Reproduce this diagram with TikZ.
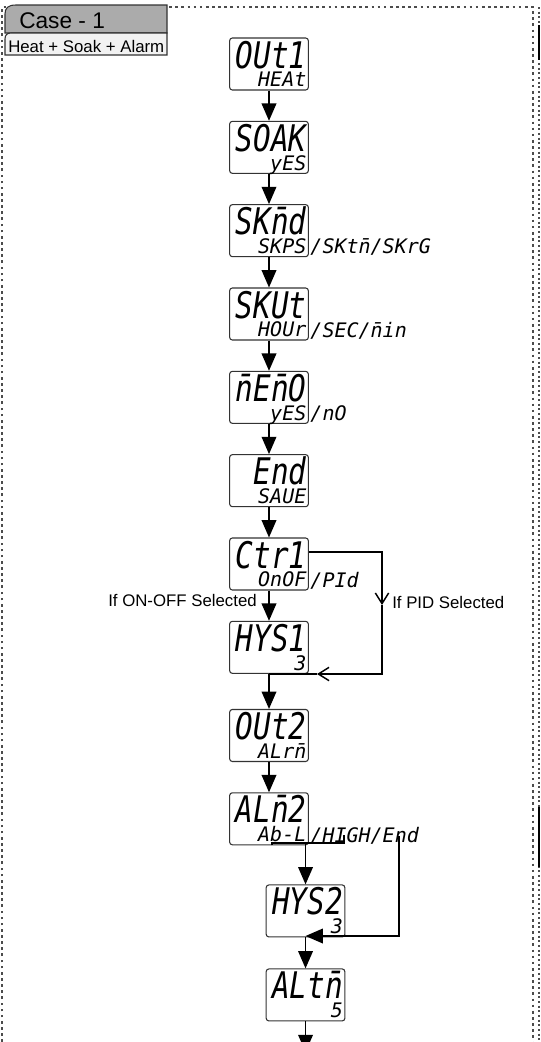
\documentclass[tikz,border=0pt]{standalone}
\usepackage{fontspec}
\setmainfont{Liberation Sans}
\newfontfamily\segfont{DejaVu Sans Mono Oblique}
\usepackage{graphicx}
\usetikzlibrary{positioning,arrows.meta}

\newcommand{\bigseg}{\segfont\fontsize{22pt}{22pt}\selectfont}
\newcommand{\smallseg}{\segfont\fontsize{15pt}{15pt}\selectfont}
\newcommand{\mb}[1]{\accent"00AF #1}
\newcommand{\seg}[2]{\vbox to 34pt{\offinterlineskip
  \hbox to 56pt{\vrule height 20pt width 0pt\hfil\smash{\bigseg\scalebox{1}[1.25]{#1}}}\vfil
  \hbox to 56pt{\hfil\smash{\smallseg #2}}}}

\begin{document}
\begin{tikzpicture}[x=0.75pt, y=-0.75pt, node distance=22.7pt,
  every node/.style={font=\fontsize{12.6pt}{14pt}\selectfont},
  lcd/.style={draw=black!80, line width=0.8pt, rounded corners=2pt, minimum width=59pt, minimum height=39pt, inner sep=0pt},
  opt/.style={anchor=base west, inner sep=1pt, font=\smallseg},
  arr/.style={-{Triangle[length=13pt,width=11pt]}, line width=1.1pt},
  barb/.style={-{Straight Barb[length=8pt,width=10pt]}, line width=1.1pt},
  link/.style={line width=1.1pt},
  frame/.style={draw=black!70, line width=0.9pt, dash pattern=on 2pt off 2.6pt}]
  \useasboundingbox (0,0) rectangle (540,1042);
  % panel frame
  \draw[frame] (2,1042) -- (2,7) -- (533,7) -- (533,1042);
  \draw[frame, dash pattern=on 1.5pt off 2pt] (539,7) -- (539,1042);
  \draw[line width=1.5pt] (539,25) -- (539,60) (539,807) -- (539,867);
  % tab
  \draw[draw=black!80, fill=black!33, line width=0.8pt] (5,33) -- (5,14) .. controls (5,8) and (8,5) .. (16,5) -- (167,5) -- (167,33) -- cycle;
  \draw[draw=black!80, fill=black!5, line width=0.8pt] (5,55) -- (5,39) .. controls (5,35) and (7,33) .. (11,33) -- (167,33) -- (167,55) -- cycle;
  \node[anchor=base west, inner sep=0pt, font=\fontsize{17pt}{18pt}\selectfont] (case) at (19,28) {Case - 1};
  \node[anchor=base west, inner sep=0pt] (mode) at (8,52) {Heat + Soak + Alarm};
  % displays
  \node[lcd] (out1) at (269,64) {\seg{OUt1}{HEAt}};
  \node[lcd, below=of out1] (soak) {\seg{SOAK}{yES}};
  \node[lcd, below=of soak] (skmd) {\seg{SK\mb{n}d}{SKPS}};
  \node[lcd, below=of skmd] (skut) {\seg{SKUt}{HOUr}};
  \node[lcd, below=of skut] (memo) {\seg{\mb{n}E\mb{n}O}{yES}};
  \node[lcd, below=of memo] (done) {\seg{End}{SAUE}};
  \node[lcd, below=of done] (ctr1) {\seg{Ctr1}{OnOF}};
  \node[lcd, below=of ctr1] (hys1) {\seg{HYS1}{3}};
  \node[lcd, below=26.3pt of hys1] (out2) {\seg{OUt2}{ALr\mb{n}}};
  \node[lcd, below=of out2] (alm2) {\seg{AL\mb{n}2}{Ab-L}};
  \node[lcd, below=29.3pt of alm2, xshift=27.4pt] (hys2) {\seg{HYS2}{3}};
  \node[lcd, below=23.2pt of hys2] (altm) {\seg{ALt\mb{n}}{5}};
  \coordinate[below=23pt of altm] (next);
  % other choices
  \node[opt] (skmdopt) at ([yshift=2.5pt]skmd.south east) {/SKt\mb{n}/SKrG};
  \node[opt] (skutopt) at ([yshift=2.5pt]skut.south east) {/SEC/\mb{n}in};
  \node[opt] (memoopt) at ([yshift=2.5pt]memo.south east) {/nO};
  \node[opt] (ctr1opt) at ([yshift=2.5pt]ctr1.south east) {/PId};
  \node[opt] (alm2opt) at ([yshift=2.5pt]alm2.south east) {/HIGH/End};
  \draw[arr] (out1) -- (soak);
  \draw[arr] (soak) -- (skmd);
  \draw[arr] (skmd) -- (skut);
  \draw[arr] (skut) -- (memo);
  \draw[arr] (memo) -- (done);
  \draw[arr] (done) -- (ctr1);
  \draw[arr] (ctr1) -- (hys1);
  \draw[arr] (hys1) -- (out2);
  \draw[arr] (out2) -- (alm2);
  % PID branch
  \coordinate (pidtop) at (382,552);
  \coordinate (pidmid) at (382,605);
  \coordinate (pidbot) at (382,674);
  \coordinate (pidjoin) at (317,674);
  \draw[barb] (ctr1.east |- pidtop) -- (pidtop) -- (pidmid);
  \draw[barb] (pidmid) -- (pidbot) -- (pidjoin);
  \draw[link] (pidjoin) -- (hys1.south |- pidbot);
  \node[anchor=east, inner sep=0pt] (onoff) at (257,600) {If ON-OFF Selected};
  \node[anchor=west, inner sep=0pt] (pidlbl) at (392,602) {If PID Selected};
  % alarm branches
  \coordinate (abl) at (272,843);
  \coordinate (high) at (344,843);
  \coordinate (hightop) at (344,835);
  \draw[link] (abl |- alm2.south) -- (abl) -- (high) -- (hightop);
  \draw[arr] (hys2.north |- abl) -- (hys2);
  \coordinate (endtop) at (399,836);
  \coordinate (endbot) at (399,936);
  \draw[arr] (endtop) -- (endbot) -- (hys2.south |- endbot);
  \draw[arr] (hys2) -- (altm);
  \draw[arr] (altm) -- (next);
\end{tikzpicture}
\end{document}
